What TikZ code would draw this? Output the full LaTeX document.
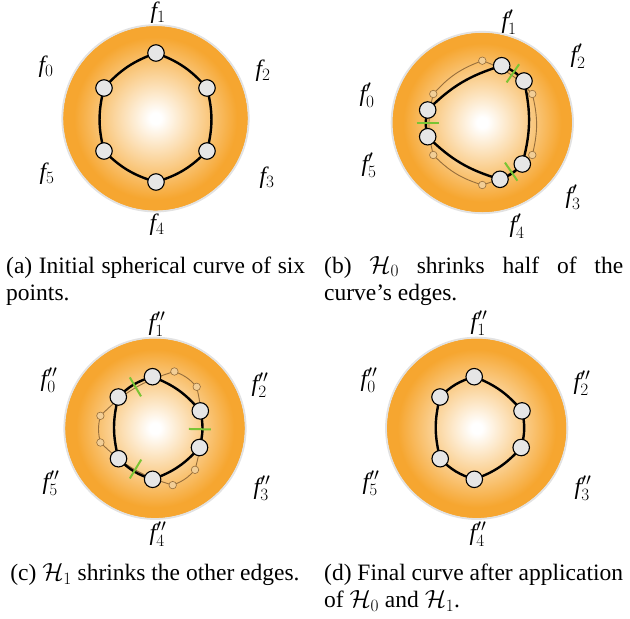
\documentclass[tikz,border=0pt]{standalone}
\usepackage{fontspec}
\setmainfont{Liberation Serif}
\usetikzlibrary{calc}
\definecolor{sphorange}{RGB}{246,166,48}
\definecolor{ringgray}{RGB}{226,226,226}
\definecolor{nodefill}{RGB}{230,230,230}
\definecolor{tickgreen}{RGB}{122,196,52}
\definecolor{oldbrown}{RGB}{150,110,60}
\definecolor{oldfill}{RGB}{242,206,150}
\pgfdeclareradialshading{sph}{\pgfpoint{0bp}{0bp}}{color(0bp)=(white); color(1.5bp)=(white); color(22bp)=(sphorange); color(50bp)=(sphorange)}
\begin{document}
\begin{tikzpicture}[x=1pt,y=-1pt,font=\fontsize{23.5}{26}\selectfont,
  mnode/.style={circle,draw=black,line width=1.1pt,fill=nodefill,minimum size=16.5pt,inner sep=0pt},
  fnode/.style={circle,draw=oldbrown,line width=0.6pt,fill=oldfill,minimum size=7.5pt,inner sep=0pt},
  curve/.style={line width=2.4pt,black,line join=round},
  oldcurve/.style={line width=0.9pt,oldbrown},
  tickmark/.style={line width=2pt,tickgreen},
  lbl/.style={inner sep=0pt,anchor=center},
  capnode/.style={inner sep=0pt,anchor=base west},
  bb/.style={bend left=14}]
\useasboundingbox (0,0) rectangle (630,619);

% ---------------- panel (a)
\begin{scope}[shift={(155.5,118.3)}]
  \shade[shading=sph] (0,0) circle[radius=92.5];
  \draw[ringgray,line width=1.8pt] (0,0) circle[radius=93.2];
  \coordinate (aT) at (0.5,-65.3);
  \coordinate (aUR) at (51.5,-30.3);
  \coordinate (aLR) at (51.5,32.7);
  \coordinate (aB) at (0.5,63.7);
  \coordinate (aLL) at (-51.5,32.7);
  \coordinate (aUL) at (-51.5,-30.3);
  \draw[curve] (aT) to[bb] (aUR) to[bb] (aLR) to[bb] (aB) to[bb] (aLL) to[bb] (aUL) to[bb] (aT);
  \foreach \p in {aT,aUR,aLR,aB,aLL,aUL} \node[mnode] (n\p) at (\p) {};
\end{scope}

% ---------------- panel (b)
\begin{scope}[shift={(482.3,122.5)}]
  \shade[shading=sph] (0,0) circle[radius=90];
  \draw[ringgray,line width=1.8pt] (0,0) circle[radius=90.7];
  \coordinate (bT) at (0,-61.8);
  \coordinate (bUR) at (50,-28.5);
  \coordinate (bLR) at (50,32.5);
  \coordinate (bB) at (0,62.5);
  \coordinate (bLL) at (-49,32.5);
  \coordinate (bUL) at (-49,-28.5);
  \draw[oldcurve] (bT) to[bb] (bUR) to[bb] (bLR) to[bb] (bB) to[bb] (bLL) to[bb] (bUL) to[bb] (bT);
  \foreach \p in {bT,bUR,bLR,bB,bLL,bUL} \node[fnode] (f\p) at (\p) {};
  \coordinate (bA1) at (19.4,-56.8);
  \coordinate (bA2) at (41.7,-41.5);
  \coordinate (bB1) at (40,41.5);
  \coordinate (bB2) at (17.7,56.8);
  \coordinate (bC1) at (-54.6,14.2);
  \coordinate (bC2) at (-54.6,-12.5);
  \draw[curve] (bA1) to[bb] (bA2) to[bb] (bB1) to[bb] (bB2) to[bb] (bC1) to[bb] (bC2) to[bb] (bA1);
  \coordinate (bmA) at ($(bA1)!0.5!(bA2)$);
  \coordinate (bmB) at ($(bB1)!0.5!(bB2)$);
  \coordinate (bmC) at ($(bC1)!0.5!(bC2)$);
  \coordinate (btA1) at ($(bmA)!11pt!90:(bA2)$);
  \coordinate (btA2) at ($(bmA)!11pt!-90:(bA2)$);
  \coordinate (btB1) at ($(bmB)!11pt!90:(bB2)$);
  \coordinate (btB2) at ($(bmB)!11pt!-90:(bB2)$);
  \coordinate (btC1) at ($(bmC)!11pt!90:(bC2)$);
  \coordinate (btC2) at ($(bmC)!11pt!-90:(bC2)$);
  \draw[tickmark] (btA1) -- (btA2);
  \draw[tickmark] (btB1) -- (btB2);
  \draw[tickmark] (btC1) -- (btC2);
  \foreach \p in {bA1,bA2,bB1,bB2,bC1,bC2} \node[mnode] (n\p) at (\p) {};
\end{scope}

% ---------------- panel (c)
\begin{scope}[shift={(155,428.3)}]
  \shade[shading=sph] (0,0) circle[radius=90];
  \draw[ringgray,line width=1.8pt] (0,0) circle[radius=90.7];
  \coordinate (cA1) at (19.4,-56.8);
  \coordinate (cA2) at (41.7,-41.5);
  \coordinate (cB1) at (40,41.5);
  \coordinate (cB2) at (17.7,56.8);
  \coordinate (cC1) at (-54.6,14.2);
  \coordinate (cC2) at (-54.6,-12.5);
  \draw[oldcurve] (cA1) to[bb] (cA2) to[bb] (cB1) to[bb] (cB2) to[bb] (cC1) to[bb] (cC2) to[bb] (cA1);
  \foreach \p in {cA1,cA2,cB1,cB2,cC1,cC2} \node[fnode] (f\p) at (\p) {};
  \coordinate (cP1) at (-2.5,-51.6);
  \coordinate (cP2) at (45.3,-17.4);
  \coordinate (cP3) at (44.5,19.2);
  \coordinate (cP4) at (-2.4,51);
  \coordinate (cP5) at (-36.5,30.4);
  \coordinate (cP0) at (-36.7,-31.3);
  \draw[curve] (cP1) to[bb] (cP2) to[bb] (cP3) to[bb] (cP4) to[bb] (cP5) to[bb] (cP0) to[bb] (cP1);
  \coordinate (cmA) at ($(cP0)!0.5!(cP1)$);
  \coordinate (cmB) at ($(cP2)!0.5!(cP3)$);
  \coordinate (cmC) at ($(cP4)!0.5!(cP5)$);
  \coordinate (ctA1) at ($(cmA)!11pt!90:(cP1)$);
  \coordinate (ctA2) at ($(cmA)!11pt!-90:(cP1)$);
  \coordinate (ctB1) at ($(cmB)!11pt!90:(cP3)$);
  \coordinate (ctB2) at ($(cmB)!11pt!-90:(cP3)$);
  \coordinate (ctC1) at ($(cmC)!11pt!90:(cP5)$);
  \coordinate (ctC2) at ($(cmC)!11pt!-90:(cP5)$);
  \draw[tickmark] (ctA1) -- (ctA2);
  \draw[tickmark] (ctB1) -- (ctB2);
  \draw[tickmark] (ctC1) -- (ctC2);
  \foreach \p in {cP0,cP1,cP2,cP3,cP4,cP5} \node[mnode] (n\p) at (\p) {};
\end{scope}

% ---------------- panel (d)
\begin{scope}[shift={(476.7,428.3)}]
  \shade[shading=sph] (0,0) circle[radius=90];
  \draw[ringgray,line width=1.8pt] (0,0) circle[radius=90.7];
  \coordinate (dP1) at (-2.5,-51.6);
  \coordinate (dP2) at (45.3,-17.4);
  \coordinate (dP3) at (44.5,19.2);
  \coordinate (dP4) at (-2.4,51);
  \coordinate (dP5) at (-36.5,30.4);
  \coordinate (dP0) at (-36.7,-31.3);
  \draw[curve] (dP1) to[bb] (dP2) to[bb] (dP3) to[bb] (dP4) to[bb] (dP5) to[bb] (dP0) to[bb] (dP1);
  \foreach \p in {dP0,dP1,dP2,dP3,dP4,dP5} \node[mnode] (n\p) at (\p) {};
\end{scope}

% ---------------- labels
\node[lbl] (la1) at (158,13) {$\mathit{f}_1$};
\node[lbl] (la0) at (46,67) {$\mathit{f}_0$};
\node[lbl] (la2) at (263,71) {$\mathit{f}_2$};
\node[lbl] (la3) at (267,178) {$\mathit{f}_3$};
\node[lbl] (la5) at (47,174) {$\mathit{f}_5$};
\node[lbl] (la4) at (157,225) {$\mathit{f}_4$};

\node[lbl] (lb1) at (509,22) {$\mathit{f}'_1$};
\node[lbl] (lb2) at (578,56) {$\mathit{f}'_2$};
\node[lbl] (lb0) at (367,95) {$\mathit{f}'_0$};
\node[lbl] (lb5) at (369,165) {$\mathit{f}'_5$};
\node[lbl] (lb3) at (573,197) {$\mathit{f}'_3$};
\node[lbl] (lb4) at (517,226) {$\mathit{f}'_4$};

\node[lbl] (lc1) at (157,324) {$\mathit{f}''_1$};
\node[lbl] (lc0) at (49,380) {$\mathit{f}''_0$};
\node[lbl] (lc2) at (260,385) {$\mathit{f}''_2$};
\node[lbl] (lc5) at (51,483) {$\mathit{f}''_5$};
\node[lbl] (lc3) at (262,488) {$\mathit{f}''_3$};
\node[lbl] (lc4) at (158,534) {$\mathit{f}''_4$};

\node[lbl] (ld1) at (479,323) {$\mathit{f}''_1$};
\node[lbl] (ld0) at (369,380) {$\mathit{f}''_0$};
\node[lbl] (ld2) at (582,383) {$\mathit{f}''_2$};
\node[lbl] (ld5) at (371,483) {$\mathit{f}''_5$};
\node[lbl] (ld3) at (583,488) {$\mathit{f}''_3$};
\node[lbl] (ld4) at (478,534) {$\mathit{f}''_4$};

% ---------------- captions
\node[capnode] (capa1) at (6,273) {\makebox[299pt][s]{(a) Initial spherical curve of six}};
\node[capnode] (capa2) at (6,300) {points.};
\node[capnode] (capb1) at (324,273) {\makebox[299pt][s]{(b) $\mathcal{H}_0$ shrinks half of the}};
\node[capnode] (capb2) at (324,300) {curve’s edges.};
\node[inner sep=0pt,anchor=base] (capc1) at (155,580.5) {(c) $\mathcal{H}_1$ shrinks the other edges.};
\node[capnode] (capd1) at (324,580.5) {(d) Final curve after application};
\node[capnode] (capd2) at (324,607.5) {of \smash{$\mathcal{H}_0$} and \smash{$\mathcal{H}_1$}.};
\end{tikzpicture}
\end{document}
